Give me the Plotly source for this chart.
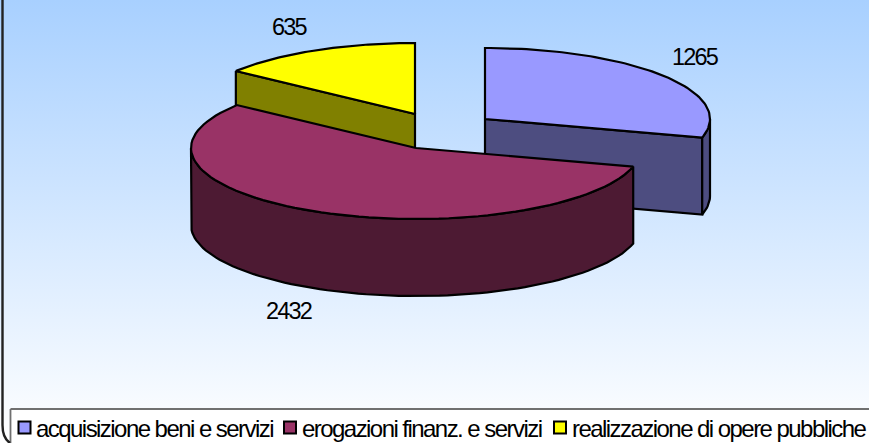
import numpy as np
import plotly.graph_objects as go

categories = ["acquisizione beni e servizi", "erogazioni finanz. e servizi", "realizzazione di opere pubbliche"]
values = [1265, 2432, 635]
top_colors = ["#9999FF", "#993366", "#FFFF00"]
side_colors = ["#4D4D80", "#4D1A33", "#808000"]
centers = [(485, 119), (416, 148), (415, 114)]
label_pos = [(695, 57), (289, 311), (290, 27)]
legend_text_x = [36, 302, 572]
legend_mark_x = [24.5, 290, 560]

W, H = 869, 443
RX, RY, DEPTH = 225, 71, 77
LW = 2.2
FONT = "Liberation Sans"

total = sum(values)
edges = np.concatenate([[0], np.cumsum(values)]) / total * 2 * np.pi


def rim(c, a, b, n=80, dy=0):
    t = np.linspace(a, b, n)
    return c[0] + RX * np.sin(t), c[1] - RY * np.cos(t) + dy


def poly(fig, xs, ys, color):
    fig.add_trace(go.Scatter(x=list(xs), y=list(ys), mode="lines", fill="toself", fillcolor=color,
                             line=dict(color="black", width=LW, shape="linear"),
                             hoverinfo="skip", showlegend=False))


def spaced(text, ls):
    return f'<span style="letter-spacing:{ls}px">{text}</span>'


fig = go.Figure()

# background gradient
fig.add_trace(go.Scatter(x=[0, W, W, 0, 0], y=[0, 0, H, H, 0], mode="none", fill="toself",
                         fillgradient=dict(type="vertical",
                                           colorscale=[[0, "#FFFFFF"], [1, "#A8D0FF"]]),
                         hoverinfo="skip", showlegend=False))


def wedge(i):
    c, a, b = centers[i], edges[i], edges[i + 1]
    x, y = rim(c, a, b)
    return c, a, b, x, y


# blue slice (exploded to the right)
c, a, b, x, y = wedge(0)
ex, ey = rim(c, b, b, 1)
poly(fig, [c[0], c[0], ex[0], ex[0], c[0]], [c[1], c[1] + DEPTH, ey[0] + DEPTH, ey[0], c[1]], side_colors[0])
ox, oy = rim(c, np.pi / 2, b, 12)
poly(fig, list(ox) + list(ox[::-1]) + [ox[0]], list(oy) + list((oy + DEPTH)[::-1]) + [oy[0]], side_colors[0])
poly(fig, [c[0]] + list(x) + [c[0]], [c[1]] + list(y) + [c[1]], top_colors[0])

# yellow slice (exploded upward)
c, a, b, x, y = wedge(2)
sx, sy = rim(c, a, a, 1)
poly(fig, [sx[0], c[0], c[0], sx[0], sx[0]], [sy[0], c[1], c[1] + DEPTH, sy[0] + DEPTH, sy[0]], side_colors[2])
poly(fig, [c[0]] + list(x) + [c[0]], [c[1]] + list(y) + [c[1]], top_colors[2])

# red slice (front)
c, a, b, x, y = wedge(1)
ox, oy = rim(c, a, 3 * np.pi / 2)
poly(fig, list(ox) + list(ox[::-1]) + [ox[0]], list(oy) + list((oy + DEPTH)[::-1]) + [oy[0]], side_colors[1])
poly(fig, [c[0]] + list(x) + [c[0]], [c[1]] + list(y) + [c[1]], top_colors[1])

# legend box, above the background
fig.add_trace(go.Scatter(x=[10.5, W + 5, W + 5, 10.5, 10.5], y=[409, 409, H + 5, H + 5, 409],
                         mode="lines", fill="toself", fillcolor="white", cliponaxis=True,
                         line=dict(color="#707070", width=1.8), hoverinfo="skip", showlegend=False))

# legend markers
fig.add_trace(go.Scatter(x=legend_mark_x, y=[427.5] * 3, mode="markers", hoverinfo="skip", showlegend=False,
                         marker=dict(symbol="square", size=12, color=top_colors,
                                     line=dict(color="black", width=2))))

annotations = []
for v, (lx, ly) in zip(values, label_pos):
    annotations.append(dict(x=lx, y=ly, text=spaced(v, -1.8), showarrow=False, xanchor="center", yanchor="middle",
                            font=dict(family=FONT, size=23.5, color="black")))
for name, tx in zip(categories, legend_text_x):
    annotations.append(dict(x=tx, y=428, text=spaced(name, -1.55), showarrow=False, xanchor="left", yanchor="middle",
                            xshift=-2, font=dict(family=FONT, size=24, color="black")))

shapes = [
    # chart frame, left edge with rounded corner
    dict(type="path", path="M 2.5 0 L 2.5 425 Q 2.5 438 10 443", line=dict(color="#222222", width=2.4), layer="above"),
]

fig.update_layout(
    width=W, height=H, margin=dict(l=0, r=0, t=0, b=0), autosize=False,
    paper_bgcolor="white", plot_bgcolor="white", showlegend=False,
    xaxis=dict(range=[0, W], visible=False, fixedrange=True),
    yaxis=dict(range=[H, 0], visible=False, fixedrange=True),
    shapes=shapes, annotations=annotations,
)
fig.write_html("out.html", config=dict(displayModeBar=False, responsive=False),
               post_script="document.body.style.margin='0';document.documentElement.style.overflow='hidden';")
